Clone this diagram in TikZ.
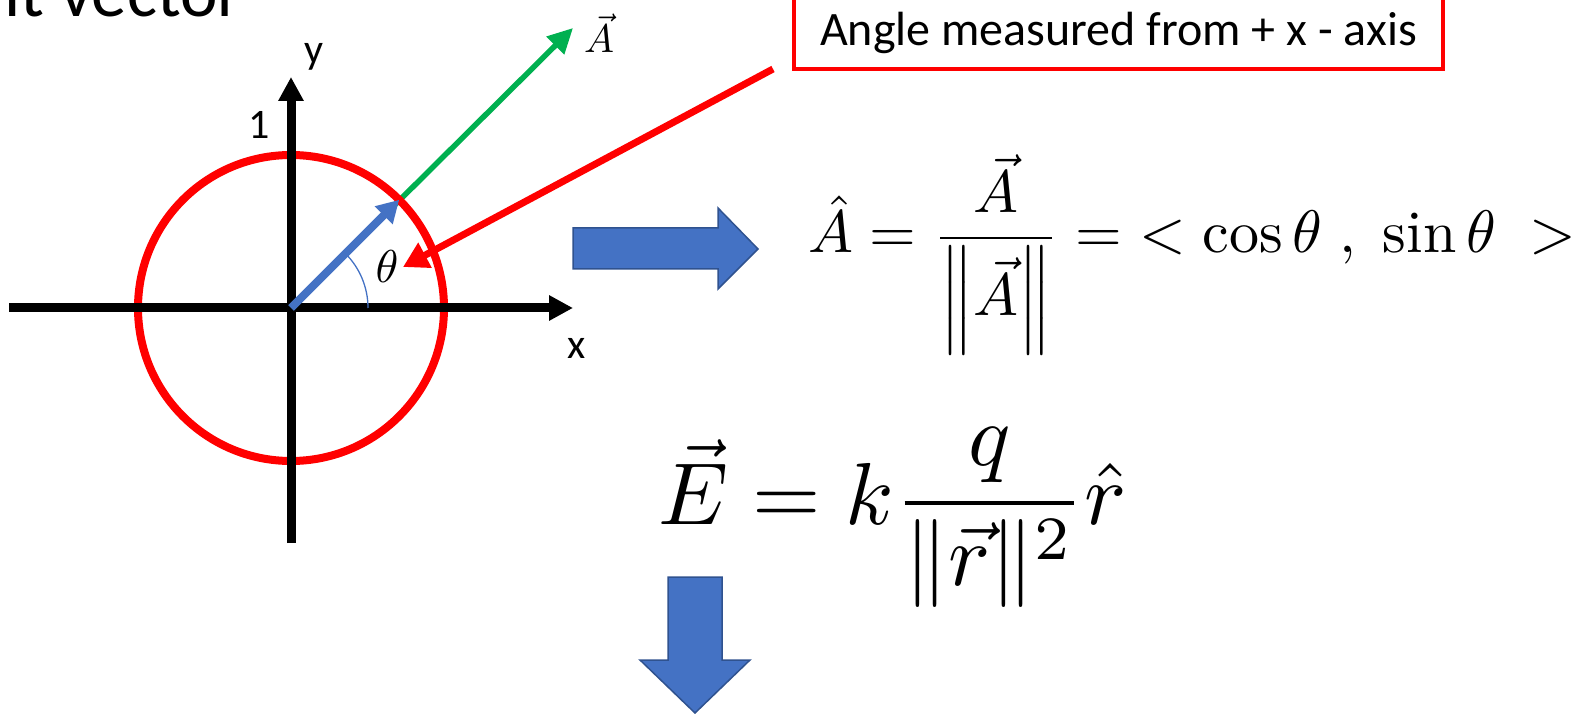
\documentclass[tikz,border=0pt]{standalone}
\usepackage{amsmath}
\usepackage{fontspec}
\newfontfamily\slidefont{Carlito}
\usetikzlibrary{arrows.meta,calc,positioning}
\definecolor{uvRed}{HTML}{FF0000}
\definecolor{uvGreen}{HTML}{00B050}
\definecolor{uvBlue}{HTML}{4472C4}
\definecolor{uvEdge}{HTML}{2F528F}
\newcommand{\mathat}[2]{\scalebox{#1}{$\displaystyle #2$}}
\tikzset{
 slide/.style={x=1pt,y=1pt},
 axis/.style={draw=black,line width=9pt,-{Triangle[length=24pt,width=24pt]}},
 ring/.style={draw=uvRed,line width=8pt},
 vecA/.style={draw=uvGreen,line width=5.5pt,-{Triangle[length=25pt,width=24pt]}},
 unitvec/.style={draw=uvBlue,line width=8pt,-{Triangle[length=22pt,width=24pt]}},
 pointer/.style={draw=uvRed,line width=7pt,-{Triangle[length=25pt,width=27pt]}},
 anglearc/.style={draw=uvBlue,line width=1.3pt},
 callout/.style={draw=uvRed,line width=4pt,fill=white,inner sep=0pt,minimum width=649pt,
   text height=70pt,text depth=23pt,font=\slidefont\fontsize{48}{58}\selectfont},
 blockarrow/.style={fill=uvBlue,draw=uvEdge,line width=1.5pt,line join=miter},
 axislabel/.style={font=\slidefont\fontsize{42}{50}\selectfont,inner sep=0pt},
 symlabel/.style={inner sep=0pt},
 formula/.style={inner sep=0pt,anchor=base west}
}

\begin{document}
\begin{tikzpicture}[slide]
 \useasboundingbox (0,0) rectangle (1582,713);
 \clip (0,0) rectangle (1582,713);
 \coordinate (O) at (291,405);
 \coordinate (xstart) at (9,405); \coordinate (xend) at (573,405);
 \coordinate (ybot) at (291,170); \coordinate (ytop) at (291,636);
 \coordinate (Atip) at (573,685);
 \coordinate (Ahat) at ($(O)+(45:153)$);
 \node[anchor=base west,inner sep=0pt,font=\slidefont\fontsize{71}{80}\selectfont] (title) at (4,696) {it vector};
 \draw[vecA] (O) -- (Atip);
 \draw[ring] (O) circle[radius=153];
 \draw[axis] (xstart) -- (xend);
 \draw[axis] (ybot) -- (ytop);
 \draw[unitvec] (O) -- (Ahat);
 \draw[anglearc] ($(O)+(77,0)$) arc[start angle=0,end angle=45,radius=77];
 \node[axislabel] (ylab) at (314,656) {y};
 \node[axislabel] (onelab) at (259,588) {1};
 \node[axislabel] (xlab) at (577,365) {x};
 \node[symlabel] (thlab) at (387,446) {\mathat{4.6}{\theta}};
 \node[symlabel] (Alab) at (599,680) {\mathat{4.0}{\vec{A}}};
 \node[callout,anchor=south] (callout) at (1118.5,642) {Angle measured from + x - axis};
 \coordinate (ptr) at ($(callout.south west)+(-19,2)$);
 \coordinate (thtip) at (403,446);
 \draw[pointer] (ptr) -- (thtip);
 \draw[blockarrow] (573,444) -- (718,444) -- (718,424) -- (758,464) -- (718,505) -- (718,485) -- (573,485) -- cycle;
 \draw[blockarrow] (668,136) -- (722,136) -- (722,53) -- (750,53) -- (695,0) -- (640,53) -- (668,53) -- cycle;
 \node[formula] (unitdef) at (808,460)
   {\mathat{6.0}{\hat{A}=\frac{\vec{A}}{\left\|\vec{A}\right\|}=\;<\cos\theta\;,\;\sin\theta\;>}};
 \node[formula] (field) at (658,188)
   {\mathat{8.8}{\vec{E}=k\frac{q}{\|\vec{r}\|^{2}}\hat{r}}};
\end{tikzpicture}
\end{document}
